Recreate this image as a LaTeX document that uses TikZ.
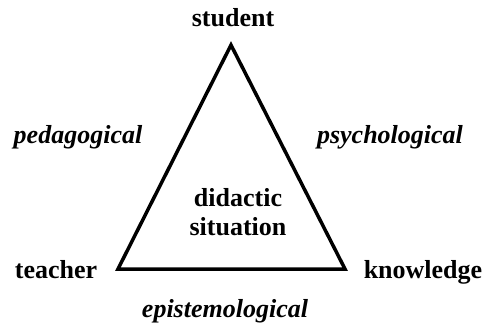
\documentclass[tikz,border=0pt]{standalone}
\usepackage{fontspec}
\setmainfont{Liberation Serif}
\usepackage{tikz}

\tikzset{
	corner/.style={font=\fontsize{26}{29}\selectfont\bfseries, inner sep=0pt},
	side/.style={font=\fontsize{26}{29}\selectfont\bfseries\itshape, inner sep=0pt},
	edge/.style={line width=3.5pt, line join=miter}
}

\begin{document}
\begin{tikzpicture}[x=1pt, y=-1pt]
			\useasboundingbox (0,0) rectangle (485,329);
			\coordinate (top) at (231,45);
			\coordinate (left) at (118,269);
			\coordinate (right) at (345,269);
			\draw[edge] (top) -- (left) -- (right) -- cycle;
			\node[corner] (student) at (233,18) {student};
			\node[corner, anchor=base] (teacher) at (56,278) {teacher};
			\node[corner, anchor=base] (knowledge) at (423,278) {knowledge};
			\node[side] (pedagogical) at (78,137) {pedagogical};
			\node[side] (psychological) at (390,137) {psychological};
			\node[side] (epistemological) at (225,311) {epistemological};
			\node[corner, align=center] (situation) at (238,212) {didactic\\situation};
		\end{tikzpicture}
\end{document}
